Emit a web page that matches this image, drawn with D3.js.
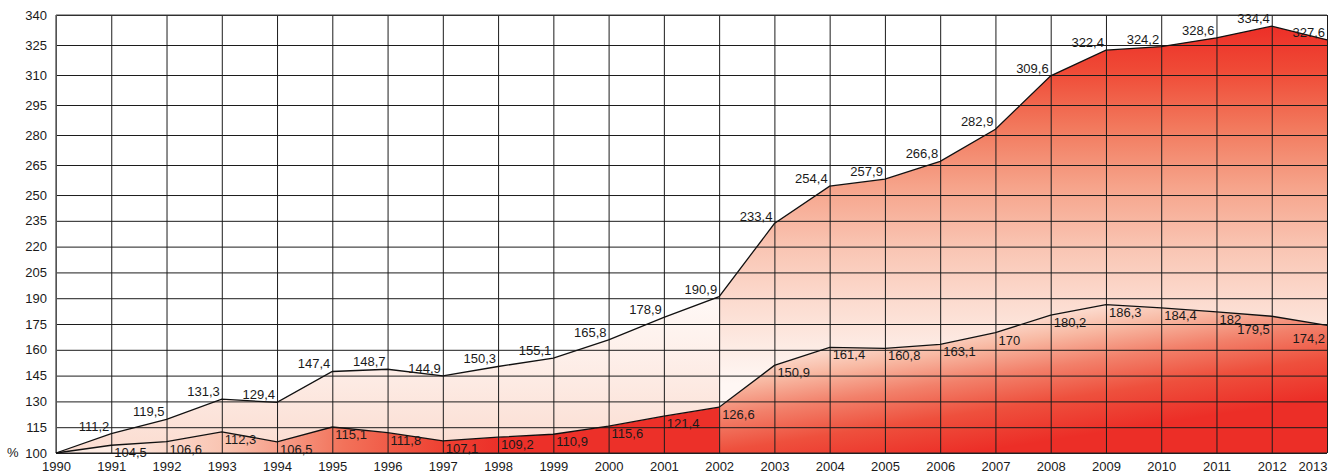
<!DOCTYPE html>
<html>
<head>
<meta charset="utf-8">
<script src="https://cdn.jsdelivr.net/npm/d3@7"></script>
<style>
  body { margin: 0; background: #fff; }
  svg { display: block; }
  text { font-family: "Liberation Sans", Arial, sans-serif; font-size: 13px; fill: #1a1a1a; }
</style>
</head>
<body>
<svg id="chart" width="1343" height="476"></svg>
<script>
// Years on the horizontal axis
const years = [1990, 1991, 1992, 1993, 1994, 1995, 1996, 1997, 1998, 1999, 2000, 2001,
               2002, 2003, 2004, 2005, 2006, 2007, 2008, 2009, 2010, 2011, 2012, 2013];

// Index values, 1990 = 100 %
const upperSeries = [100, 111.2, 119.5, 131.3, 129.4, 147.4, 148.7, 144.9, 150.3, 155.1, 165.8, 178.9,
                     190.9, 233.4, 254.4, 257.9, 266.8, 282.9, 309.6, 322.4, 324.2, 328.6, 334.4, 327.6];
const lowerSeries = [100, 104.5, 106.6, 112.3, 106.5, 115.1, 111.8, 107.1, 109.2, 110.9, 115.6, 121.4,
                     126.6, 150.9, 161.4, 160.8, 163.1, 170, 180.2, 186.3, 184.4, 182, 179.5, 174.2];

// Vertical axis ticks
const yTicks = [100, 115, 130, 145, 160, 175, 190, 205, 220, 235, 250, 265, 280, 295, 310, 325, 340];

// Year where the colour scheme of the bands changes
const splitYear = 2002;

const svg = d3.select("#chart");
const plotLeft = 56, plotRight = 1327, plotTop = 15, plotBottom = 453;

const x = d3.scaleLinear().domain([1990, 2013]).range([plotLeft, plotRight]);
// The value axis is stretched above 250
const y = d3.scaleLinear()
  .domain([100, 250, 340])
  .range([plotBottom, plotBottom - (plotBottom - plotTop) * 0.589, plotTop]);

const rows = years.map((yr, i) => ({ year: yr, up: upperSeries[i], low: lowerSeries[i], i }));
const leftRows = rows.filter(d => d.year <= splitYear);
const rightRows = rows.filter(d => d.year >= splitYear);

const fmt = v => String(v).replace(".", ",");

// ---- gradients ----
const defs = svg.append("defs");
function linGrad(id, p1, p2, stops) {
  const g = defs.append("linearGradient").attr("id", id)
    .attr("gradientUnits", "userSpaceOnUse")
    .attr("x1", p1[0]).attr("y1", p1[1]).attr("x2", p2[0]).attr("y2", p2[1]);
  stops.forEach(([o, c]) => g.append("stop").attr("offset", o).attr("stop-color", c));
}

// early years, below the lower line: pale on the left, deep red towards 2000
linGrad("gLowA", [x(1991), y(114)], [x(1998), y(100)], [
  [0, "#fdebe3"], [0.3, "#f9c3b0"], [0.6, "#f2725a"], [0.85, "#ee4233"], [1, "#ec3029"]
]);
// early years, between the lines: pale blush fading to white
linGrad("gUpA", [0, y(100)], [0, y(195)], [
  [0, "#fbdcd0"], [0.45, "#fdebe4"], [1, "#fffaf8"]
]);
// later years, between the lines: red at the top, almost white near the lower line
linGrad("gUpB", [0, y(338)], [0, y(140)], [
  [0, "#ec2a25"], [0.14, "#ef4a36"], [0.3, "#f27a5e"], [0.46, "#f6a48b"],
  [0.62, "#f9c4b2"], [0.78, "#fcdcd0"], [0.92, "#fdeee8"], [1, "#fff7f4"]
]);
// later years, below the lower line: pale under the line, red at the base
linGrad("gLowB", [x(2003), y(160)], [x(2003) + 20, y(160) + 130], [
  [0, "#fde6dc"], [0.22, "#f8b9a3"], [0.45, "#f2806a"], [0.7, "#ee503d"], [1, "#ec2e27"]
]);

// ---- filled bands ----
const bandBase = d3.area().x(d => x(d.year)).y0(y(100)).y1(d => y(d.low));
const bandMid = d3.area().x(d => x(d.year)).y0(d => y(d.low)).y1(d => y(d.up));

svg.append("path").datum(leftRows).attr("d", bandBase).attr("fill", "url(#gLowA)");
svg.append("path").datum(leftRows).attr("d", bandMid).attr("fill", "url(#gUpA)");
svg.append("path").datum(rightRows).attr("d", bandBase).attr("fill", "url(#gLowB)");
svg.append("path").datum(rightRows).attr("d", bandMid).attr("fill", "url(#gUpB)");

// ---- grid and axes ----
const yAxis = svg.append("g")
  .attr("transform", `translate(${plotLeft},0)`)
  .call(d3.axisLeft(y).tickValues(yTicks).tickSize(-(plotRight - plotLeft)).tickPadding(9).tickFormat(d3.format("d")));
yAxis.select(".domain").remove();
yAxis.selectAll(".tick line").attr("stroke", "#1c1c1c").attr("stroke-width", 1);
yAxis.selectAll(".tick text").style("font-size", "13px").attr("fill", "#1a1a1a");

const xAxis = svg.append("g")
  .attr("transform", `translate(0,${plotBottom})`)
  .call(d3.axisBottom(x).tickValues(years).tickSize(-(plotBottom - plotTop)).tickPadding(9).tickFormat(d3.format("d")));
xAxis.select(".domain").remove();
xAxis.selectAll(".tick line").attr("stroke", "#1c1c1c").attr("stroke-width", 1);
xAxis.selectAll(".tick text").style("font-size", "13px").attr("fill", "#1a1a1a")
  .attr("text-anchor", d => d === years[years.length - 1] ? "end" : "middle");

// frame
svg.append("line").attr("x1", plotLeft).attr("x2", plotRight).attr("y1", plotTop).attr("y2", plotTop)
  .attr("stroke", "#444").attr("stroke-width", 1.2);
svg.append("line").attr("x1", plotLeft).attr("x2", plotLeft).attr("y1", plotTop).attr("y2", plotBottom)
  .attr("stroke", "#666").attr("stroke-width", 1.5);
svg.append("line").attr("x1", plotLeft).attr("x2", plotRight).attr("y1", plotBottom).attr("y2", plotBottom)
  .attr("stroke", "#222").attr("stroke-width", 1.2);

// unit sign next to the base value
svg.append("text").attr("x", 7).attr("y", y(100)).attr("dy", "0.32em").text("%");

// ---- lines ----
const lineUp = d3.line().x(d => x(d.year)).y(d => y(d.up));
const lineLow = d3.line().x(d => x(d.year)).y(d => y(d.low));
svg.append("path").datum(rows).attr("d", lineUp).attr("fill", "none").attr("stroke", "#111").attr("stroke-width", 1.3);
svg.append("path").datum(rows).attr("d", lineLow).attr("fill", "none").attr("stroke", "#111").attr("stroke-width", 1.3);

// ---- value labels ----
const labelled = rows.filter(d => d.i > 0);
svg.append("g").selectAll("text").data(labelled).join("text")
  .attr("x", d => x(d.year) - 2)
  .attr("y", d => y(d.up) - 3)
  .attr("text-anchor", "end")
  .text(d => fmt(d.up));

const n = years.length;
svg.append("g").selectAll("text").data(labelled).join("text")
  .attr("x", d => d.i >= n - 2 ? x(d.year) - 2 : x(d.year) + 3)
  .attr("y", d => d.i >= n - 2 ? y(d.low) + 18 : y(d.low) + 12)
  .attr("text-anchor", d => d.i >= n - 2 ? "end" : "start")
  .text(d => fmt(d.low));
</script>
</body>
</html>
